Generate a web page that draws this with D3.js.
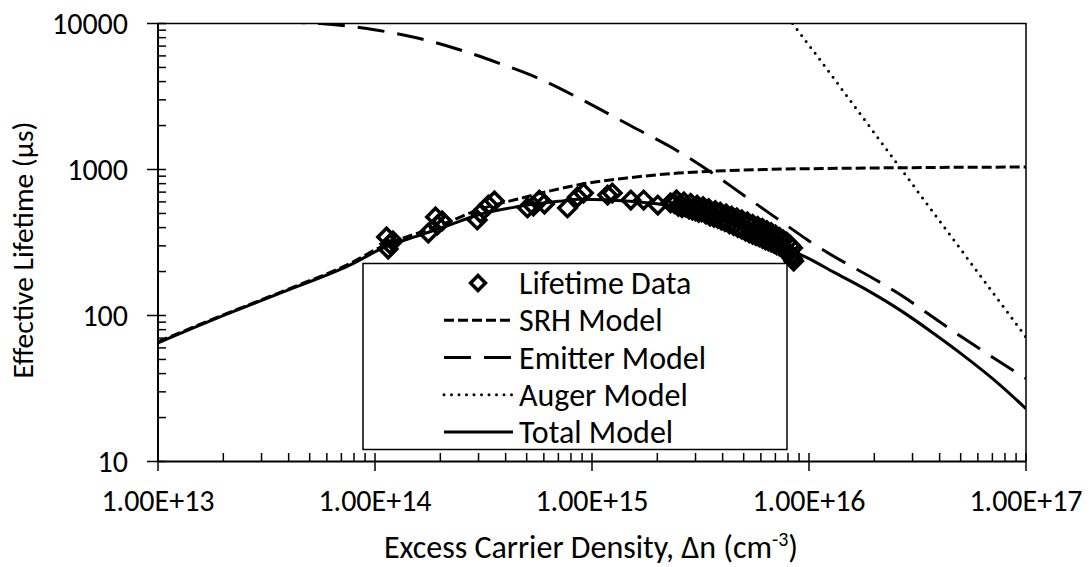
<!DOCTYPE html>
<html>
<head>
<meta charset="utf-8">
<script src="https://cdn.jsdelivr.net/npm/d3@7"></script>
<style>
  body { margin: 0; background: #fff; }
  text { font-family: Carlito, Lato, sans-serif; fill: #000; }
</style>
</head>
<body>
<div id="chart"></div>
<script>
// measured lifetime data, excess carrier density (cm^-3) and lifetime (us)
var dataN = [1.13e14, 1.17e14, 1.21e14, 1.15e14, 1.76e14, 1.90e14, 2.04e14, 1.94e14,
  2.96e14, 3.06e14, 3.33e14, 3.55e14, 5.04e14, 5.37e14, 5.72e14, 6.04e14,
  7.71e14, 8.57e14, 9.14e14, 1.18e15, 1.24e15, 1.51e15, 1.73e15, 2.01e15, 2.30e15,
  2.4e15, 2.5e15, 2.6e15, 2.7e15, 2.8e15, 2.9e15, 3.0e15, 3.1e15, 3.2e15, 3.35e15,
  3.5e15, 3.65e15, 3.8e15, 3.95e15, 4.1e15, 4.3e15, 4.5e15, 4.7e15, 4.9e15, 5.1e15,
  5.3e15, 5.5e15, 5.7e15, 5.9e15, 6.1e15, 6.3e15, 6.5e15, 6.7e15, 6.9e15, 7.1e15,
  7.3e15, 7.5e15, 7.7e15, 7.9e15, 8.1e15, 8.3e15, 8.4e15, 8.5e15];
var dataTau = [345, 309, 324, 285, 367, 473, 444, 417,
  451, 503, 571, 609, 545, 562, 618, 580,
  545, 648, 690, 668, 690, 618, 618, 571, 590,
  585, 560, 548, 552, 535, 528, 520, 508, 512, 495,
  480, 470, 462, 450, 440, 425, 412, 400, 390, 378,
  368, 360, 352, 345, 338, 330, 325, 318, 312, 305,
  300, 292, 285, 278, 268, 258, 245, 236];
// second sweep, upper edge of the dense band
var data2N = [2.45e15, 2.65e15, 2.85e15, 3.05e15, 3.25e15, 3.45e15, 3.7e15, 3.9e15,
  4.15e15, 4.4e15, 4.65e15, 4.9e15, 5.2e15, 5.5e15, 5.8e15, 6.1e15, 6.4e15, 6.7e15,
  7.0e15, 7.3e15, 7.6e15, 7.9e15, 8.2e15, 8.4e15];
var data2Tau = [620, 600, 585, 570, 556, 540, 522, 510,
  496, 480, 466, 452, 437, 421, 408, 395, 382, 369,
  356, 343, 330, 318, 302, 290];

// model curves
var srhN = [1e13, 1.87e13, 3.78e13, 7.69e13, 1.09e14, 1.6e14, 2.2e14, 3e14, 4.5e14, 7e14,
  8.8e14, 1.5e15, 2.5e15, 4e15, 6.2e15, 1.5e16, 3e16, 1e17];
var srhTau = [66, 97, 147, 228, 300, 370, 440, 530, 625, 735,
  790, 880, 945, 980, 1000, 1020, 1030, 1040];

var emitN = [1e13, 3e13, 5.6e13, 1.01e14, 1.57e14, 2.39e14, 3.71e14, 5.61e14, 8.5e14,
  1.5e15, 2.5e15, 3.52e15, 5e15, 7e15, 1e16, 2.65e16, 5e16, 1e17];
var emitTau = [10800, 10300, 10000, 9030, 7960, 6690, 5360, 4240, 3140,
  2000, 1330, 962, 667, 470, 324, 138, 72, 37];

var augerN = [8.4e15, 1e16, 2e16, 3e16, 5e16, 7e16, 1e17];
var augerTau = [10000, 7100, 1780, 790, 284, 145, 71];

var totalN = [1e13, 1.87e13, 3.78e13, 7.69e13, 1.09e14, 1.6e14, 2.2e14, 3e14, 4.5e14, 7e14,
  8.8e14, 1.5e15, 2.5e15, 3.5e15, 5e15, 7e15, 1e16, 1.3e16, 1.87e16, 2.65e16, 3.77e16,
  5e16, 7.67e16, 1e17];
var totalTau = [65, 96, 145, 222, 290, 354, 416, 490, 555, 605,
  625, 607, 552, 485, 393, 313, 245, 198, 148, 108, 75,
  55, 33, 23];

var xTicks = [1e13, 1e14, 1e15, 1e16, 1e17];
var xTickLabels = ["1.00E+13", "1.00E+14", "1.00E+15", "1.00E+16", "1.00E+17"];
var yTicks = [10, 100, 1000, 10000];
var yTickLabels = ["10", "100", "1000", "10000"];

var legendNames = ["Lifetime Data", "SRH Model", "Emitter Model", "Auger Model", "Total Model"];

var width = 1092, height = 567;
var fs = 30;

var svg = d3.select("#chart").append("svg")
  .attr("width", width)
  .attr("height", height);

var x = d3.scaleLog().domain([1e13, 1e17]).range([158, 1026]);
var y = d3.scaleLog().domain([10, 10000]).range([461.5, 23.5]);

svg.append("clipPath").attr("id", "plot")
  .append("rect")
  .attr("x", 158).attr("y", 23.5)
  .attr("width", 868).attr("height", 438);

// frame top / right
svg.append("path")
  .attr("d", "M158,23.5H1026V461.5")
  .attr("fill", "none")
  .attr("stroke", "#000")
  .attr("stroke-width", 1.5);

// minor ticks
var xMinor = [], yMinor = [];
for (var e = 13; e < 17; e++) {
  for (var k = 2; k <= 9; k++) xMinor.push(k * Math.pow(10, e));
}
for (var e2 = 1; e2 < 4; e2++) {
  for (var k2 = 2; k2 <= 9; k2++) yMinor.push(k2 * Math.pow(10, e2));
}

var axes = svg.append("g").attr("stroke", "#000").attr("stroke-width", 1.5);
axes.selectAll(".xm").data(xMinor).enter().append("line")
  .attr("x1", function(d) { return x(d); })
  .attr("x2", function(d) { return x(d); })
  .attr("y1", 453).attr("y2", 461.5);
axes.selectAll(".xM").data(xTicks).enter().append("line")
  .attr("x1", function(d) { return x(d); })
  .attr("x2", function(d) { return x(d); })
  .attr("y1", 453).attr("y2", 471);
axes.selectAll(".ym").data(yMinor).enter().append("line")
  .attr("y1", function(d) { return y(d); })
  .attr("y2", function(d) { return y(d); })
  .attr("x1", 158).attr("x2", 166);
axes.selectAll(".yM").data(yTicks).enter().append("line")
  .attr("y1", function(d) { return y(d); })
  .attr("y2", function(d) { return y(d); })
  .attr("x1", 147).attr("x2", 166);
axes.append("line").attr("x1", 158).attr("x2", 158).attr("y1", 23.5).attr("y2", 461.5).attr("stroke-width", 2);
axes.append("line").attr("x1", 158).attr("x2", 1026).attr("y1", 461.5).attr("y2", 461.5).attr("stroke-width", 2);

// tick labels
svg.selectAll(".xl").data(xTicks).enter().append("text")
  .attr("x", function(d) { return x(d); })
  .attr("y", 511)
  .attr("text-anchor", "middle")
  .attr("font-size", fs)
  .text(function(d, i) { return xTickLabels[i]; });
svg.selectAll(".yl").data(yTicks).enter().append("text")
  .attr("x", 128)
  .attr("y", function(d) { return y(d) + 10; })
  .attr("text-anchor", "end")
  .attr("font-size", fs)
  .text(function(d, i) { return yTickLabels[i]; });

// axis titles
var xt = svg.append("text")
  .attr("x", 591).attr("y", 558)
  .attr("text-anchor", "middle")
  .attr("font-size", 32);
xt.append("tspan").text("Excess Carrier Density, \u0394n (cm");
xt.append("tspan").attr("dy", -12).attr("font-size", 20).text("-3");
xt.append("tspan").attr("dy", 12).text(")");

svg.append("text")
  .attr("transform", "translate(33,250) rotate(-90)")
  .attr("text-anchor", "middle")
  .attr("font-size", 29.5)
  .text("Effective Lifetime (\u00b5s)");

// curves
function pts(ns, ts) { return ns.map(function(n, i) { return [n, ts[i]]; }); }
var line = d3.line()
  .x(function(d) { return x(d[0]); })
  .y(function(d) { return y(d[1]); })
  .curve(d3.curveMonotoneX);

var styles = [
  { name: "SRH Model", data: pts(srhN, srhTau), dash: "10,4", cap: "butt" },
  { name: "Emitter Model", data: pts(emitN, emitTau), dash: "27,13", cap: "butt" },
  { name: "Auger Model", data: pts(augerN, augerTau), dash: "0,7.5", cap: "round" },
  { name: "Total Model", data: pts(totalN, totalTau), dash: null, cap: "butt" }
];

var curves = svg.append("g").attr("clip-path", "url(#plot)");
curves.selectAll("path").data(styles).enter().append("path")
  .attr("d", function(d) { return line(d.data); })
  .attr("fill", "none")
  .attr("stroke", "#000")
  .attr("stroke-width", 3)
  .attr("stroke-linecap", function(d) { return d.cap; })
  .attr("stroke-dasharray", function(d) { return d.dash; });

// data diamonds
var diamond = d3.symbol().type(d3.symbolSquare).size(150);
var allData = pts(dataN, dataTau).concat(pts(data2N, data2Tau));
svg.append("g").selectAll("path").data(allData).enter().append("path")
  .attr("d", diamond)
  .attr("transform", function(d) { return "translate(" + x(d[0]) + "," + y(d[1]) + ") rotate(45)"; })
  .attr("fill", "none")
  .attr("stroke", "#000")
  .attr("stroke-width", 3.5);

// legend
var lg = svg.append("g");
lg.append("rect")
  .attr("x", 363).attr("y", 263.5)
  .attr("width", 424).attr("height", 186)
  .attr("fill", "#fff")
  .attr("stroke", "#000")
  .attr("stroke-width", 1.5);

var rowY = d3.scalePoint().domain(legendNames).range([283, 432]);

lg.append("path")
  .attr("d", d3.symbol().type(d3.symbolSquare).size(110))
  .attr("transform", "translate(478," + rowY(legendNames[0]) + ") rotate(45)")
  .attr("fill", "none")
  .attr("stroke", "#000")
  .attr("stroke-width", 3.5);

lg.selectAll(".ll").data(styles).enter().append("line")
  .attr("x1", 444).attr("x2", 513)
  .attr("y1", function(d) { return rowY(d.name); })
  .attr("y2", function(d) { return rowY(d.name); })
  .attr("stroke", "#000")
  .attr("stroke-width", 3)
  .attr("stroke-linecap", function(d) { return d.cap; })
  .attr("stroke-dasharray", function(d) { return d.dash; });

lg.selectAll(".lt").data(legendNames).enter().append("text")
  .attr("x", 519)
  .attr("y", function(d) { return rowY(d) + 11; })
  .attr("font-size", 32)
  .text(function(d) { return d; });
</script>
</body>
</html>
